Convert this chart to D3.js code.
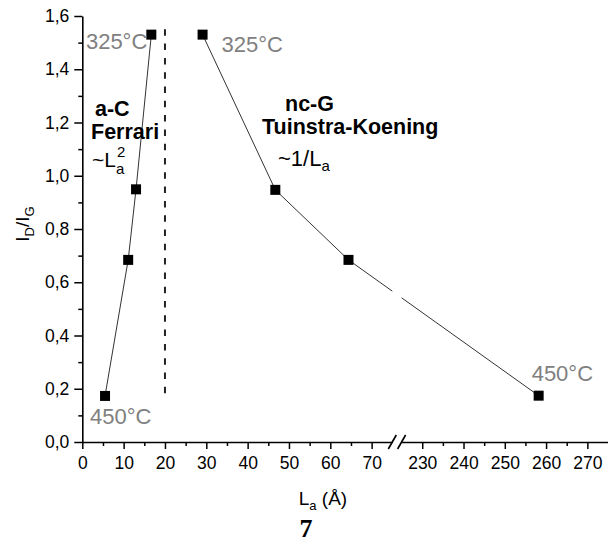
<!DOCTYPE html>
<html>
<head>
<meta charset="utf-8">
<script src="https://cdn.jsdelivr.net/npm/d3@7"></script>
<style>
  html, body { margin: 0; padding: 0; background: #fff; }
  svg { display: block; font-family: "Liberation Sans", Arial, sans-serif; }
</style>
</head>
<body>
<svg id="chart" width="608" height="551"></svg>
<script>
// Crystallite size L_a (Å) and Raman intensity ratio I_D/I_G
const aC_La    = [5.5, 11.1, 13.0, 16.7];
const aC_ratio = [0.173, 0.684, 0.949, 1.53];
const ncG_La    = [29.1, 46.7, 64.4, 258.2];
const ncG_ratio = [1.53, 0.947, 0.684, 0.174];

// Axis ticks (x axis is broken between 75 and 225)
const xTicksLow  = [0, 10, 20, 30, 40, 50, 60, 70];
const xTicksHigh = [230, 240, 250, 260, 270];
const xMinorLow  = [5, 15, 25, 35, 45, 55, 65];
const xMinorHigh = [235, 245, 255, 265];
const yTicks = [0, 0.2, 0.4, 0.6, 0.8, 1.0, 1.2, 1.4, 1.6];
const yMinor = [0.1, 0.3, 0.5, 0.7, 0.9, 1.1, 1.3, 1.5];

// Boundary between the amorphous and nanocrystalline regimes
const regimeBoundary = 20;
const boundarySpan = [0.17, 1.55];

const svg = d3.select("#chart");
const FONT = '"Liberation Sans", Arial, sans-serif';

const y = d3.scaleLinear().domain([0, 1.6]).range([442, 16]);
const xLow  = d3.scaleLinear().domain([0, 75]).range([82.3, 392.3]);
const xHigh = d3.scaleLinear().domain([225, 275]).range([401.6, 608]);
const x = v => (v <= 75 ? xLow(v) : xHigh(v));

const fmt = d => d3.format(".1f")(d).replace(".", ",");

// ---- y axis ----
const yAxis = svg.append("g").attr("transform", "translate(82.3,0)")
  .call(d3.axisLeft(y).tickValues(yTicks).tickFormat(fmt).tickSize(8).tickSizeOuter(0).tickPadding(5));
yAxis.selectAll(".tick text").attr("font-size", 17.5).attr("font-family", FONT).attr("fill", "#000");
yAxis.select(".domain").attr("stroke-width", 1.6);
yAxis.selectAll(".tick line").attr("stroke-width", 1.5);
svg.append("g").attr("transform", "translate(82.3,0)")
  .call(d3.axisLeft(y).tickValues(yMinor).tickFormat("").tickSize(4).tickSizeOuter(0))
  .call(g => g.select(".domain").remove())
  .selectAll("line").attr("stroke-width", 1.5);

// ---- x axis (two segments) ----
function xSegment(scale, ticks, minor) {
  const g = svg.append("g").attr("transform", "translate(0,442)")
    .call(d3.axisBottom(scale).tickValues(ticks).tickSize(7).tickSizeOuter(0).tickPadding(8));
  g.selectAll(".tick text").attr("font-size", 17.5).attr("font-family", FONT).attr("fill", "#000");
  g.select(".domain").attr("stroke-width", 1.6);
  g.selectAll(".tick line").attr("stroke-width", 1.5);
  svg.append("g").attr("transform", "translate(0,442)")
    .call(d3.axisBottom(scale).tickValues(minor).tickFormat("").tickSize(4).tickSizeOuter(0))
    .call(s => s.select(".domain").remove())
    .selectAll("line").attr("stroke-width", 1.5);
}
xSegment(xLow, xTicksLow, xMinorLow);
xSegment(xHigh, xTicksHigh, xMinorHigh);

// break marks on the x axis
[xLow.range()[1], xHigh.range()[0]].forEach(px => {
  svg.append("line")
    .attr("x1", px - 4).attr("y1", 449).attr("x2", px + 4).attr("y2", 435)
    .attr("stroke", "#000").attr("stroke-width", 1.6);
});

// ---- axis titles ----
const xt = svg.append("text").attr("x", 323).attr("y", 505).attr("text-anchor", "middle")
  .attr("font-size", 19).attr("font-family", FONT);
xt.append("tspan").text("L");
xt.append("tspan").attr("font-size", 13).attr("dy", 5).text("a");
xt.append("tspan").attr("dy", -5).text(" (Å)");

const yt = svg.append("text").attr("transform", "translate(29,224) rotate(-90)")
  .attr("text-anchor", "middle").attr("font-size", 19).attr("font-family", FONT);
yt.append("tspan").text("I");
yt.append("tspan").attr("font-size", 13).attr("dy", 5).text("D");
yt.append("tspan").attr("dy", -5).text("/I");
yt.append("tspan").attr("font-size", 13).attr("dy", 5).text("G");

// ---- regime boundary ----
svg.append("line")
  .attr("x1", x(regimeBoundary)).attr("x2", x(regimeBoundary))
  .attr("y1", y(boundarySpan[1])).attr("y2", y(boundarySpan[0]))
  .attr("stroke", "#222").attr("stroke-width", 2).attr("stroke-dasharray", "6.5,7.8");

// ---- data lines (clipped across the axis break) ----
const defs = svg.append("defs");
const clip = defs.append("clipPath").attr("id", "brk");
clip.append("rect").attr("x", 0).attr("y", 0).attr("width", xLow.range()[1]).attr("height", 551);
clip.append("rect").attr("x", xHigh.range()[0]).attr("y", 0).attr("width", 608).attr("height", 551);

const line = d3.line().x(d => x(d[0])).y(d => y(d[1]));
const aC  = d3.zip(aC_La, aC_ratio);
const ncG = d3.zip(ncG_La, ncG_ratio);

[aC, ncG].forEach(s => {
  svg.append("path").datum(s).attr("d", line)
    .attr("fill", "none").attr("stroke", "#333").attr("stroke-width", 1)
    .attr("clip-path", "url(#brk)");
  svg.append("g").selectAll("rect").data(s).join("rect")
    .attr("x", d => x(d[0]) - 5).attr("y", d => y(d[1]) - 5)
    .attr("width", 10).attr("height", 10).attr("fill", "#000");
});

// ---- temperature labels ----
const grey = "#808080";
function tLabel(px, py, txt, anchor) {
  svg.append("text").attr("x", px).attr("y", py).attr("text-anchor", anchor)
    .attr("font-size", 22).attr("font-family", FONT).attr("fill", grey).text(txt);
}
tLabel(x(aC_La[3]) - 4, y(aC_ratio[3]) + 14, "325°C", "end");
tLabel(x(aC_La[0]) - 15, y(aC_ratio[0]) + 28, "450°C", "start");
tLabel(x(ncG_La[0]) + 19, y(ncG_ratio[0]) + 17, "325°C", "start");
tLabel(x(ncG_La[3]) - 7, y(ncG_ratio[3]) - 15, "450°C", "start");

// ---- regime annotations ----
function bold(px, py, txt) {
  svg.append("text").attr("x", px).attr("y", py).attr("font-size", 21.5)
    .attr("font-weight", "bold").attr("font-family", FONT).text(txt);
}
bold(95, 116, "a-C");
bold(91, 139, "Ferrari");
bold(285, 111, "nc-G");
bold(262, 134, "Tuinstra-Koening");

// ~L_a^2
svg.append("text").attr("x", 92).attr("y", 167).attr("font-size", 21).attr("font-family", FONT).text("~L");
svg.append("text").attr("x", 116).attr("y", 174).attr("font-size", 15).attr("font-family", FONT).text("a");
svg.append("text").attr("x", 117).attr("y", 157).attr("font-size", 15).attr("font-family", FONT).text("2");

// ~1/L_a
const inv = svg.append("text").attr("x", 278).attr("y", 166).attr("font-size", 22).attr("font-family", FONT);
inv.append("tspan").text("~1/L");
inv.append("tspan").attr("font-size", 15).attr("dy", 5).text("a");

// figure number
svg.append("text").attr("x", 306).attr("y", 537).attr("text-anchor", "middle")
  .attr("font-size", 26).attr("font-weight", "bold")
  .attr("font-family", '"Liberation Serif", "Times New Roman", serif').text("7");
</script>
</body>
</html>
